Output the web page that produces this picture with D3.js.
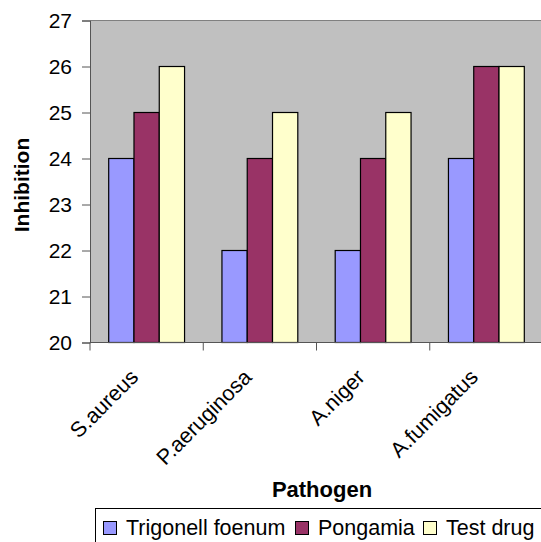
<!DOCTYPE html>
<html><head><meta charset="utf-8">
<script src="https://cdn.jsdelivr.net/npm/d3@7/dist/d3.min.js"></script>
<style>body{margin:0;background:#fff}svg{display:block;font-family:"Liberation Sans",Arial,sans-serif}</style>
</head><body>
<script>
const categories = ["S.aureus", "P.aeruginosa", "A.niger", "A.fumigatus"];
const seriesNames = ["Trigonell foenum", "Pongamia", "Test drug"];
const trigonell = [24, 22, 22, 24];
const pongamia = [25, 24, 24, 26];
const testDrug = [26, 25, 25, 26];
const yTicks = [20, 21, 22, 23, 24, 25, 26, 27];
const colors = ["#9999FF", "#993366", "#FFFFCC"];
const seriesValues = [trigonell, pongamia, testDrug];

const W = 541, H = 542;
const pLeft = 90, pRight = 543, pTop = 20.5, pBottom = 342.5;
const svg = d3.select("body").append("svg").attr("width", W).attr("height", H);

const x0 = d3.scaleBand().domain(categories).range([pLeft, pRight]);
const gap = 18.7;
const x1 = d3.scaleBand().domain(seriesNames).range([gap, x0.bandwidth() - gap]);
const y = d3.scaleLinear().domain([20, 27]).range([pBottom, pTop]);

// plot area
svg.append("rect").attr("x", pLeft).attr("y", pTop).attr("width", pRight - pLeft).attr("height", pBottom - pTop).attr("fill", "#C0C0C0");
svg.append("line").attr("x1", pLeft).attr("x2", pRight).attr("y1", pTop).attr("y2", pTop).attr("stroke", "#808080").attr("stroke-width", 1);

// bars
const data = [];
categories.forEach((c, i) => seriesNames.forEach((s, j) => data.push({c, s, v: seriesValues[j][i], j})));
svg.append("g").selectAll("rect").data(data).join("rect")
  .attr("x", d => x0(d.c) + x1(d.s))
  .attr("y", d => y(d.v))
  .attr("width", x1.bandwidth())
  .attr("height", d => y(20) - y(d.v))
  .attr("fill", d => colors[d.j])
  .attr("stroke", "#000").attr("stroke-width", 1.2);

// y axis
const yAxis = svg.append("g").attr("transform", `translate(${pLeft},0)`)
  .call(d3.axisLeft(y).tickValues(yTicks).tickSize(8).tickPadding(10).tickFormat(d3.format("d")));
yAxis.select(".domain").attr("stroke", "#555");
yAxis.selectAll(".tick line").attr("stroke", "#555");
yAxis.selectAll("text").attr("font-size", 21).attr("fill", "#000").attr("font-family", "Liberation Sans, Arial");

// x axis line and ticks
const boundaries = categories.map(c => x0(c)).concat([pRight]);
svg.append("line").attr("x1", pLeft).attr("x2", pRight).attr("y1", pBottom).attr("y2", pBottom).attr("stroke", "#555");
svg.append("g").selectAll("line").data(boundaries).join("line")
  .attr("x1", d => d).attr("x2", d => d).attr("y1", pBottom).attr("y2", pBottom + 8).attr("stroke", "#555");

// category labels
svg.append("g").selectAll("text").data(categories).join("text")
  .attr("transform", d => `translate(${x0(d) + x0.bandwidth() / 2 - 7},${pBottom + 36}) rotate(-45)`)
  .attr("text-anchor", "end").attr("font-size", 21.5).attr("fill", "#000")
  .text(d => d);

// axis titles
svg.append("text").attr("transform", `translate(29,185) rotate(-90)`).attr("text-anchor", "middle")
  .attr("font-size", 21).attr("font-weight", "bold").text("Inhibition");
svg.append("text").attr("x", 322).attr("y", 497).attr("text-anchor", "middle")
  .attr("font-size", 22).attr("font-weight", "bold").text("Pathogen");

// legend
const lg = svg.append("g");
lg.append("rect").attr("x", 95.5).attr("y", 508.5).attr("width", 470).attr("height", 50).attr("fill", "#fff").attr("stroke", "#000");
const legX = [103, 295, 423];
seriesNames.forEach((s, i) => {
  lg.append("rect").attr("x", legX[i] + 0.5).attr("y", 521.5).attr("width", 13).attr("height", 13)
    .attr("fill", colors[i]).attr("stroke", "#000");
  lg.append("text").attr("x", legX[i] + 23).attr("y", 535).attr("font-size", 21.5).text(s);
});
</script>
</body></html>
